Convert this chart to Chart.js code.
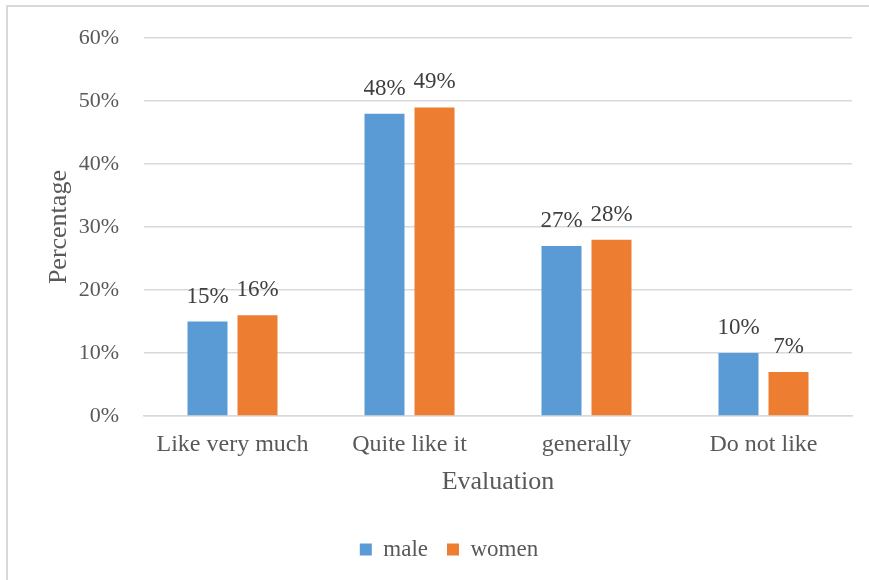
<!DOCTYPE html>
<html>
<head>
<meta charset="utf-8">
<script src="https://cdn.jsdelivr.net/npm/chart.js@4.4.1/dist/chart.umd.min.js"></script>
<style>
  html, body { margin: 0; padding: 0; background: #ffffff; }
  #wrap { width: 869px; height: 580px; position: relative; }
</style>
</head>
<body>
<div id="wrap"><canvas id="c" width="869" height="580"></canvas></div>
<script>
const categories = ["Like very much", "Quite like it", "generally", "Do not like"];
const maleValues = [15, 48, 27, 10];
const womenValues = [16, 49, 28, 7];
const seriesNames = ["male", "women"];
const yTickValues = [0, 10, 20, 30, 40, 50, 60];
const xTitle = "Evaluation";
const yTitle = "Percentage";

const FONT = '"Liberation Serif", "Times New Roman", serif';
const TEXT = '#595959';
const GRID = '#d9d9d9';
const LEGEND_DY = -9;
const LEGEND_DX = 8;

const borderPlugin = {
  id: 'outerBorder',
  beforeDraw(chart) {
    const ctx = chart.ctx;
    ctx.save();
    ctx.fillStyle = '#ffffff';
    ctx.fillRect(0, 0, chart.width, chart.height);
    ctx.fillStyle = '#d9d9d9';
    ctx.fillRect(6, 5, 2, chart.height - 5);
    ctx.fillRect(6, 5, chart.width - 6, 2);
    ctx.restore();
  }
};

const labelPlugin = {
  id: 'barLabels',
  afterDatasetsDraw(chart) {
    const ctx = chart.ctx;
    ctx.save();
    ctx.font = '23px ' + FONT;
    ctx.fillStyle = '#404040';
    ctx.textAlign = 'center';
    ctx.textBaseline = 'alphabetic';
    chart.data.datasets.forEach((ds, i) => {
      const meta = chart.getDatasetMeta(i);
      meta.data.forEach((bar, j) => {
        ctx.fillText(ds.data[j] + '%', bar.x, bar.y - 19);
      });
    });
    ctx.restore();
  }
};

const legendShift = {
  id: 'legendShift',
  afterLayout(chart) {
    const lg = chart.legend;
    if (lg) {
      lg.top += LEGEND_DY; lg.bottom += LEGEND_DY;
      lg.left += LEGEND_DX; lg.right += LEGEND_DX;
    }
  }
};

new Chart(document.getElementById('c'), {
  type: 'bar',
  data: {
    labels: categories,
    datasets: [
      { label: seriesNames[0], data: maleValues, backgroundColor: '#5b9bd5', categoryPercentage: 0.565, barPercentage: 0.8 },
      { label: seriesNames[1], data: womenValues, backgroundColor: '#ed7d31', categoryPercentage: 0.565, barPercentage: 0.8 }
    ]
  },
  options: {
    responsive: false,
    animation: false,
    devicePixelRatio: 1,
    layout: { padding: { left: 30, right: 17, top: 36, bottom: 0 } },
    plugins: {
      tooltip: { enabled: false },
      legend: {
        position: 'bottom',
        labels: {
          font: { family: FONT, size: 23 },
          color: TEXT,
          boxWidth: 12,
          boxHeight: 12,
          padding: 19
        }
      }
    },
    scales: {
      x: {
        grid: { display: false, drawTicks: false },
        border: { display: true, color: GRID, width: 1.5 },
        ticks: { font: { family: FONT, size: 24 }, color: TEXT, padding: 14, maxRotation: 0 },
        title: { display: true, text: xTitle, font: { family: FONT, size: 26 }, color: TEXT, padding: { top: 0, bottom: 30 } },
        afterFit(scale) { scale.height = 112; }
      },
      y: {
        min: 0, max: 60,
        afterBuildTicks(scale) { scale.ticks = yTickValues.map(v => ({ value: v })); },
        grid: { color: GRID, lineWidth: 1.5, drawTicks: false },
        border: { display: false },
        ticks: { font: { family: FONT, size: 22 }, color: TEXT, padding: 25, callback: v => v + '%' },
        title: { display: true, text: yTitle, font: { family: FONT, size: 26 }, color: TEXT, padding: { top: 14, bottom: 0 } },
        afterFit(scale) { scale.width = 114; }
      }
    }
  },
  plugins: [borderPlugin, labelPlugin, legendShift]
});
</script>
</body>
</html>
